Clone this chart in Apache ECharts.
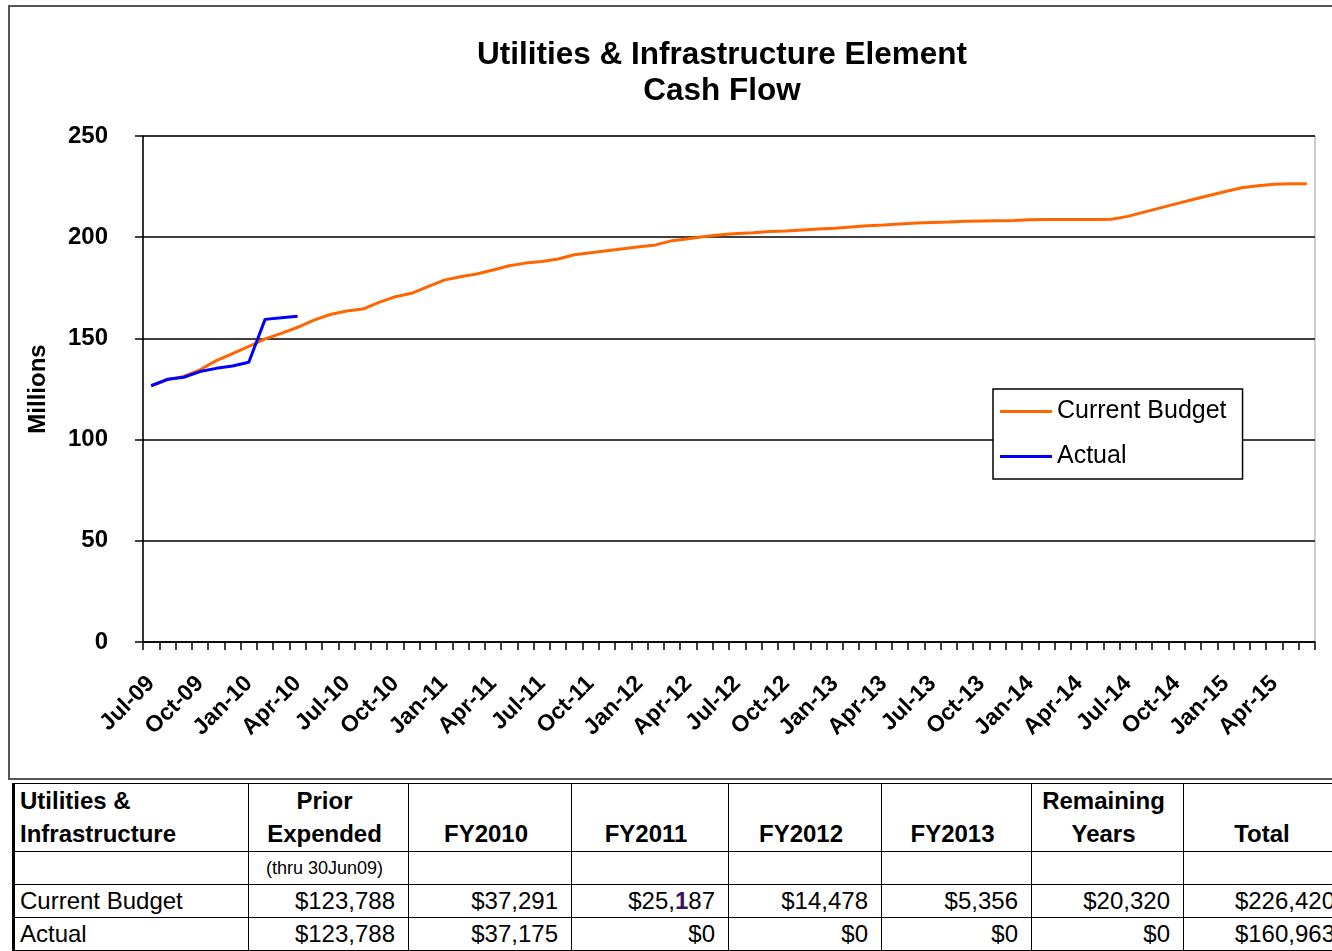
<!DOCTYPE html>
<html>
<head>
<meta charset="utf-8">
<script src="https://cdn.jsdelivr.net/npm/echarts@6/dist/echarts.min.js"></script>
<style>
  html, body { margin: 0; padding: 0; width: 1332px; height: 951px; overflow: hidden; background: #fff; font-family: "Liberation Sans", Arial, sans-serif; }
  #frame { position: absolute; left: 8px; top: 5px; width: 1340px; height: 771px; border: 2px solid #555; box-sizing: content-box; }
  #chart { position: absolute; left: 0; top: 0; width: 1332px; height: 778px; }
  #tbl { position: absolute; left: 12px; top: 783px; border-collapse: collapse; table-layout: fixed; }
  #tbl td { border: 1.5px solid #000; font-size: 24px; color: #000; padding: 0 13px 0 5px; white-space: nowrap; overflow: hidden; }
  #tbl tr.head td { height: 66px; font-weight: bold; text-align: center; vertical-align: bottom; line-height: 33px; padding-bottom: 1px; }
  #tbl tr.head td:first-child { text-align: left; }
  #tbl tr.sub td { height: 32px; font-size: 18px; text-align: center; }
  #tbl tr.val td { height: 32px; text-align: right; line-height: 32px; }
  #tbl tr.val td:first-child { text-align: left; }
  #tbl td:first-child { border-left: 3px solid #000; }
  .odd { color: #3a1060; font-weight: bold; }
</style>
</head>
<body>
<div id="frame"></div>
<div id="chart"></div>
<table id="tbl"></table>
<script>
// months, Jul-09 .. Jun-15
const months = [
  "Jul-09","Aug-09","Sep-09","Oct-09","Nov-09","Dec-09",
  "Jan-10","Feb-10","Mar-10","Apr-10","May-10","Jun-10",
  "Jul-10","Aug-10","Sep-10","Oct-10","Nov-10","Dec-10",
  "Jan-11","Feb-11","Mar-11","Apr-11","May-11","Jun-11",
  "Jul-11","Aug-11","Sep-11","Oct-11","Nov-11","Dec-11",
  "Jan-12","Feb-12","Mar-12","Apr-12","May-12","Jun-12",
  "Jul-12","Aug-12","Sep-12","Oct-12","Nov-12","Dec-12",
  "Jan-13","Feb-13","Mar-13","Apr-13","May-13","Jun-13",
  "Jul-13","Aug-13","Sep-13","Oct-13","Nov-13","Dec-13",
  "Jan-14","Feb-14","Mar-14","Apr-14","May-14","Jun-14",
  "Jul-14","Aug-14","Sep-14","Oct-14","Nov-14","Dec-14",
  "Jan-15","Feb-15","Mar-15","Apr-15","May-15","Jun-15"
];

// millions, cumulative
const currentBudget = [
  126.6, 129.5, 131.2, 134.5, 139.0, 142.5,
  146.0, 149.8, 152.5, 155.5, 159.0, 161.8,
  163.5, 164.5, 167.8, 170.6, 172.3, 175.6,
  178.8, 180.5, 181.8, 183.8, 185.9, 187.2,
  188.0, 189.2, 191.3, 192.3, 193.3, 194.3,
  195.3, 196.2, 198.3, 199.2, 200.3, 201.2,
  201.8, 202.2, 202.8, 203.1, 203.6, 204.0,
  204.4, 205.0, 205.6, 206.0, 206.5, 207.0,
  207.3, 207.5, 207.9, 208.0, 208.1, 208.2,
  208.6, 208.7, 208.8, 208.8, 208.8, 208.9,
  210.3, 212.4, 214.5, 216.6, 218.6, 220.6,
  222.6, 224.4, 225.4, 226.2, 226.4, 226.4
];
const actual = [126.6, 129.8, 130.8, 133.6, 135.2, 136.4, 138.2, 159.4, 160.2, 161.0];

// table below the chart
const tableHead = [["Utilities &<br>Infrastructure"], ["Prior<br>Expended"], ["FY2010"], ["FY2011"], ["FY2012"], ["FY2013"], ["Remaining<br>Years"], ["Total"]];
const tableSub = ["", "(thru 30Jun09)", "", "", "", "", "", ""];
const budgetRow = ["Current Budget", "$123,788", "$37,291", "$25,<span class=\"odd\">1</span>87", "$14,478", "$5,356", "$20,320", "$226,420"];
const actualRow = ["Actual", "$123,788", "$37,175", "$0", "$0", "$0", "$0", "$160,963"];
const colWidths = [235, 160, 163, 157, 153, 150, 152, 165];

const tbl = document.getElementById("tbl");
let html = "<colgroup>" + colWidths.map(w => '<col style="width:' + w + 'px">').join("") + "</colgroup>";
html += '<tr class="head">' + tableHead.map(c => "<td>" + c[0] + "</td>").join("") + "</tr>";
html += '<tr class="sub">' + tableSub.map(c => "<td>" + c + "</td>").join("") + "</tr>";
html += '<tr class="val">' + budgetRow.map(c => "<td>" + c + "</td>").join("") + "</tr>";
html += '<tr class="val">' + actualRow.map(c => "<td>" + c + "</td>").join("") + "</tr>";
tbl.innerHTML = html;
tbl.style.width = colWidths.reduce((a, b) => a + b, 0) + "px";

const chart = echarts.init(document.getElementById("chart"));
chart.setOption({
  animation: false,
  textStyle: { fontFamily: "Liberation Sans, Arial, sans-serif" },
  title: {
    text: "Utilities & Infrastructure Element\nCash Flow",
    left: 717,
    top: 32,
    textAlign: "center",
    textStyle: { fontSize: 31.5, fontWeight: "bold", color: "#000", lineHeight: 36 }
  },
  grid: {
    left: 143, top: 136, width: 1172, height: 506,
    show: true, borderColor: "#999", borderWidth: 1, backgroundColor: "transparent"
  },
  legend: {
    orient: "vertical",
    left: 993, top: 389,
    padding: [10, 16, 10, 7],
    icon: "rect",
    itemWidth: 52, itemHeight: 3, itemGap: 20,
    backgroundColor: "#fff",
    borderColor: "#000", borderWidth: 1.5,
    textStyle: { fontSize: 25, color: "#000", lineHeight: 25 },
    data: ["Current Budget", "Actual"]
  },
  xAxis: {
    type: "category",
    data: months,
    boundaryGap: true,
    axisLine: { lineStyle: { color: "#000", width: 1.5 } },
    axisTick: { show: true, interval: 0, alignWithLabel: false, length: 8, lineStyle: { color: "#000", width: 1.5 } },
    axisLabel: { interval: 2, rotate: 45, margin: 38, fontSize: 23, fontWeight: "bold", color: "#000" },
    splitLine: { show: false }
  },
  yAxis: {
    type: "value",
    min: 0, max: 250, interval: 50,
    name: "Millions",
    nameLocation: "middle",
    nameGap: 93,
    nameTextStyle: { fontSize: 24, fontWeight: "bold", color: "#000" },
    axisLine: { show: true, lineStyle: { color: "#000", width: 1.5 } },
    axisTick: { show: true, length: 8, lineStyle: { color: "#000", width: 1.5 } },
    axisLabel: { margin: 35, fontSize: 24, fontWeight: "bold", color: "#000" },
    splitLine: { show: true, lineStyle: { color: "#000", width: 1.5 } }
  },
  series: [
    {
      name: "Current Budget",
      type: "line",
      data: currentBudget,
      symbol: "none",
      lineStyle: { color: "#FF6600", width: 3 },
      itemStyle: { color: "#FF6600" },
      z: 2
    },
    {
      name: "Actual",
      type: "line",
      data: actual,
      symbol: "none",
      lineStyle: { color: "#0000FF", width: 3 },
      itemStyle: { color: "#0000FF" },
      z: 3
    }
  ]
});
</script>
</body>
</html>
